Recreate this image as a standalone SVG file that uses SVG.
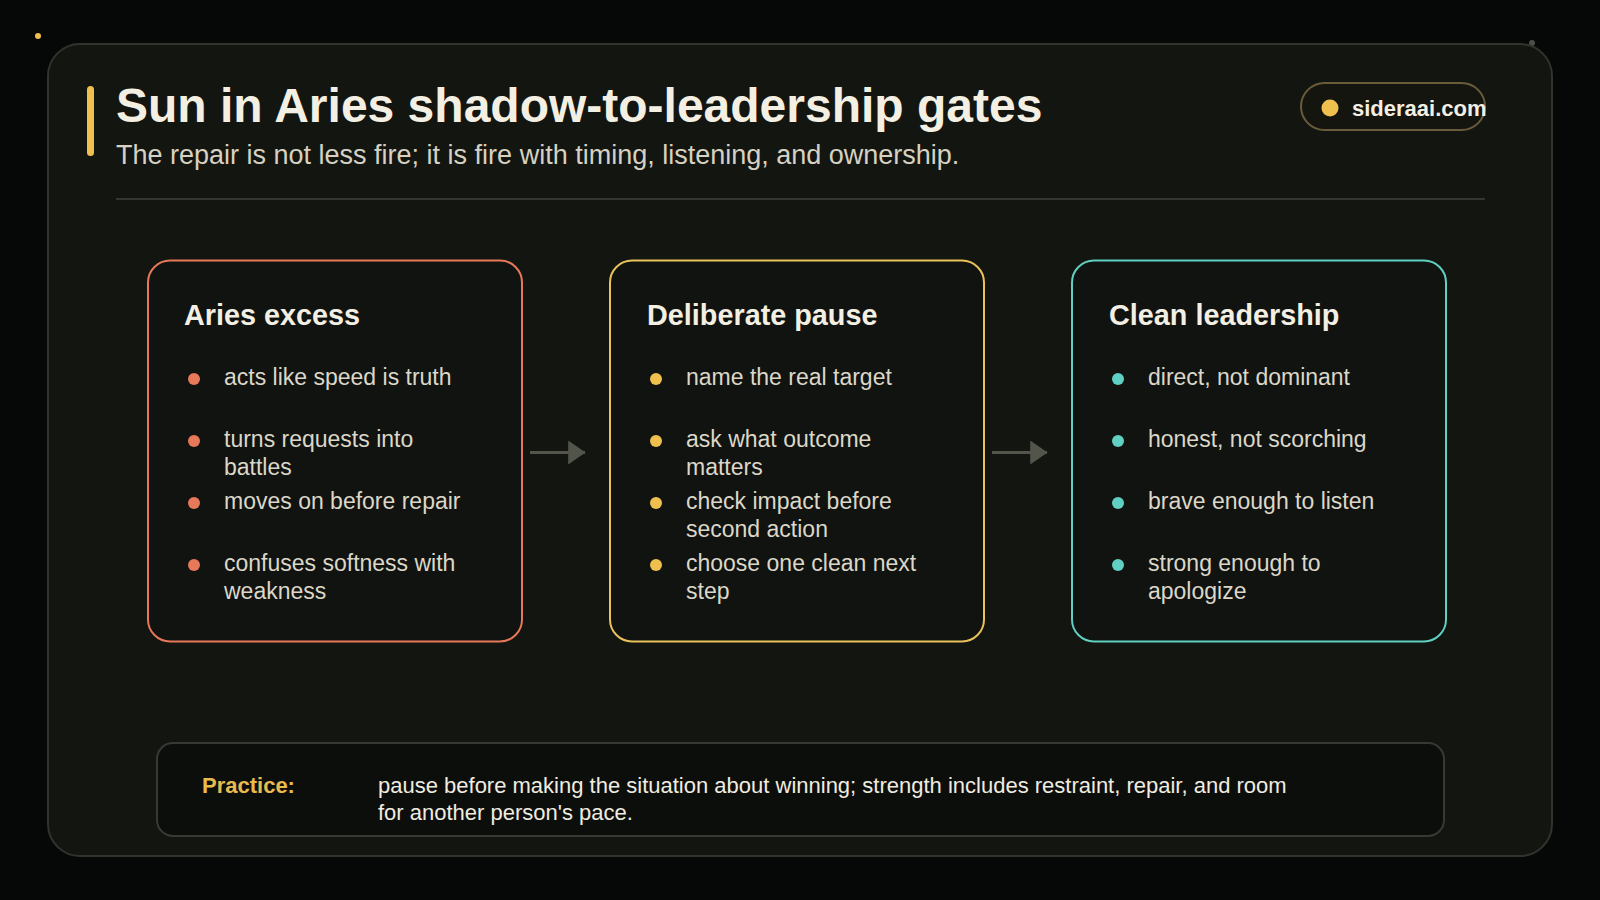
<svg xmlns="http://www.w3.org/2000/svg" width="1600" height="900" viewBox="0 0 1600 900">
<defs>
<style>
.bg{fill:#060807}
.panel{fill:#131510;stroke:#30342d;stroke-width:2}
.title{font-family:"Liberation Sans",Arial,sans-serif;font-weight:700;font-size:48px;fill:#f3efe3}
.sub{font-family:"Liberation Sans",Arial,sans-serif;font-size:27px;fill:#d6d1c2}
.card{fill:#10130f;stroke-width:2}
.ctitle{font-family:"Liberation Sans",Arial,sans-serif;font-weight:700;font-size:28.8px;fill:#f3efe3}
.item{font-family:"Liberation Sans",Arial,sans-serif;font-size:23px;fill:#dcd7c8}
.conn{stroke:#53554a;stroke-width:3;fill:none}
.badge{font-family:"Liberation Sans",Arial,sans-serif;font-weight:700;font-size:22px;fill:#f3efe3}
.plabel{font-family:"Liberation Sans",Arial,sans-serif;font-weight:700;font-size:22px;fill:#e8bb4f}
.ptext{font-family:"Liberation Sans",Arial,sans-serif;font-size:22px;fill:#f0ece0}
</style>
<marker id="arr" markerWidth="6" markerHeight="8" refX="5.6" refY="4" orient="auto" markerUnits="strokeWidth">
<path d="M0,0 L5.8,4 L0,8 Z" fill="#53554a"/>
</marker>
</defs>
<rect class="bg" x="0" y="0" width="1600" height="900"/>
<circle cx="38" cy="36" r="3" fill="#f0c04f"/>
<circle cx="1532" cy="43" r="3" fill="#4a5048"/>
<rect class="panel" x="48" y="44" width="1504" height="812" rx="32"/>

<g id="header">
<rect x="87" y="86" width="7" height="70" rx="3.5" fill="#f0c04f"/>
<text class="title" x="116" y="122">Sun in Aries shadow-to-leadership gates</text>
<text class="sub" x="116" y="164">The repair is not less fire; it is fire with timing, listening, and ownership.</text>
<line x1="116" y1="199" x2="1485" y2="199" stroke="#33372f" stroke-width="2"/>
</g>

<g id="badge">
<rect x="1301" y="83" width="184" height="47" rx="23.5" fill="#14150f" stroke="#6a5b3b" stroke-width="2"/>
<circle cx="1330" cy="108" r="8.5" fill="#f0c04f"/>
<text class="badge" x="1352" y="116">sideraai.com</text>
</g>

<g id="connectors">
<line class="conn" x1="530" y1="452.5" x2="585" y2="452.5" marker-end="url(#arr)"/>
<line class="conn" x1="992" y1="452.5" x2="1047" y2="452.5" marker-end="url(#arr)"/>
</g>

<g id="card-aries-excess">
<rect class="card" x="148" y="260.5" width="374" height="381" rx="22" stroke="#e8785a"/>
<text class="ctitle" x="184" y="325">Aries excess</text>
<g fill="#e8785a">
<circle cx="194" cy="379" r="6"/><circle cx="194" cy="441" r="6"/><circle cx="194" cy="503" r="6"/><circle cx="194" cy="565" r="6"/>
</g>
<text class="item" x="224" y="385">acts like speed is truth</text>
<text class="item" x="224" y="447">turns requests into</text>
<text class="item" x="224" y="475">battles</text>
<text class="item" x="224" y="509">moves on before repair</text>
<text class="item" x="224" y="571">confuses softness with</text>
<text class="item" x="224" y="599">weakness</text>
</g>

<g id="card-deliberate-pause">
<rect class="card" x="610" y="260.5" width="374" height="381" rx="22" stroke="#eac25c"/>
<text class="ctitle" x="647" y="325">Deliberate pause</text>
<g fill="#f0c04f">
<circle cx="656" cy="379" r="6"/><circle cx="656" cy="441" r="6"/><circle cx="656" cy="503" r="6"/><circle cx="656" cy="565" r="6"/>
</g>
<text class="item" x="686" y="385">name the real target</text>
<text class="item" x="686" y="447">ask what outcome</text>
<text class="item" x="686" y="475">matters</text>
<text class="item" x="686" y="509">check impact before</text>
<text class="item" x="686" y="537">second action</text>
<text class="item" x="686" y="571">choose one clean next</text>
<text class="item" x="686" y="599">step</text>
</g>

<g id="card-clean-leadership">
<rect class="card" x="1072" y="260.5" width="374" height="381" rx="22" stroke="#5fd0c2"/>
<text class="ctitle" x="1109" y="325">Clean leadership</text>
<g fill="#5fd0c2">
<circle cx="1118" cy="379" r="6"/><circle cx="1118" cy="441" r="6"/><circle cx="1118" cy="503" r="6"/><circle cx="1118" cy="565" r="6"/>
</g>
<text class="item" x="1148" y="385">direct, not dominant</text>
<text class="item" x="1148" y="447">honest, not scorching</text>
<text class="item" x="1148" y="509">brave enough to listen</text>
<text class="item" x="1148" y="571">strong enough to</text>
<text class="item" x="1148" y="599">apologize</text>
</g>

<g id="practice">
<rect x="157" y="743" width="1287" height="93" rx="16" fill="#0c0e0b" stroke="#373a33" stroke-width="2"/>
<text class="plabel" x="202" y="793">Practice:</text>
<text class="ptext" x="378" y="793">pause before making the situation about winning; strength includes restraint, repair, and room</text>
<text class="ptext" x="378" y="820">for another person's pace.</text>
</g>
</svg>
